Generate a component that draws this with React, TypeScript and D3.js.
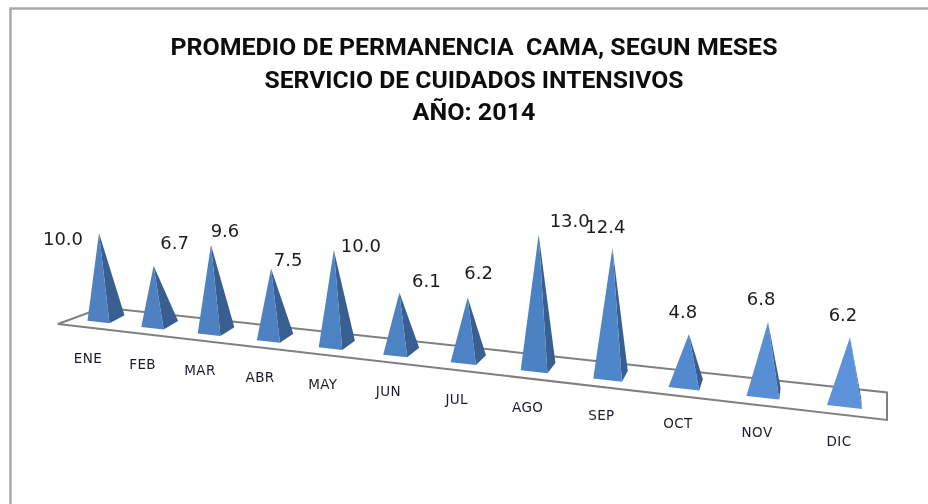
import React from "react";
import * as d3 from "d3";

const months = ["ENE","FEB","MAR","ABR","MAY","JUN","JUL","AGO","SEP","OCT","NOV","DIC"];
const promedio = [10.0,6.7,9.6,7.5,10.0,6.1,6.2,13.0,12.4,4.8,6.8,6.2];
const titleLines = ["PROMEDIO DE PERMANENCIA  CAMA, SEGUN MESES","SERVICIO DE CUIDADOS INTENSIVOS","AÑO: 2014"];
// hand-placed data label offsets from each pyramid apex, as in the source chart
const labelDx = [-36,21,14,17,27,27,11,31,-7,-6,-7,-7];
const labelDy = [6,-23,-14,-8,-4,-11,-24,-14,-21,-22,-23,-22];

const W = 928, H = 504;
const depth = d3.scaleLinear().domain([0, months.length - 1]).range([0, 1]);
// perspective: months spread out toward the viewer
const warp = (i: number) => { const t = depth(i); return 0.78 * t + 0.22 * t * t; };
const xBase = d3.scaleLinear().domain([0, 1]).range([106, 844]);
const yFloor = d3.scaleLinear().domain([106, 844]).range([318, 401]);
const frontW = d3.scaleLinear().domain([0, 0.4, 0.6, 1]).range([22, 24, 27, 35]);
const sideX = d3.scaleLinear().domain([0, 0.4, 1]).range([15, 12, -1]);
const sideY = d3.scaleLinear().domain([0, 1]).range([8, 12]);
const lean = d3.scaleLinear().domain([0, 1]).range([-7, 6]);
const unitH = d3.scaleLinear().domain([0, 0.6, 1]).range([8.5, 10.2, 10.3]);
const faceCol = d3.scaleLinear<string>().domain([0, 0.6, 1]).range(["#4f81c2", "#4c82c4", "#5c92da"]);
const line = d3.line().curve(d3.curveLinearClosed);

const marks = months.map((m, i) => {
  const u = warp(i);
  const cx = xBase(u), cy = yFloor(cx);
  const w = frontW(u), sx = sideX(u), sy = sideY(u), fy = w * 0.11;
  const FL: [number, number] = [cx - w / 2 - sx / 2, cy - fy / 2 + sy / 2];
  const FR: [number, number] = [FL[0] + w, FL[1] + fy];
  const BR: [number, number] = [FR[0] + sx, FR[1] - sy];
  const A: [number, number] = [cx + lean(u), cy - promedio[i] * unitH(u)];
  return { m, i, u, cx, cy, FL, FR, BR, A };
});

const floor: [number, number][] = [[58, 324], [887, 420], [887, 392.5], [102.5, 307.5]];

export default function App() {
  return (
    <svg width={W} height={H} style={{ position: "absolute", left: 0, top: 0, background: "#fff" }}>
      <defs>
        <filter id="soft" x="-5%" y="-5%" width="110%" height="110%">
          <feGaussianBlur stdDeviation="0.55" />
        </filter>
      </defs>
      <g filter="url(#soft)">
        <path d={`M10.5,${H}V8.5H${W}`} fill="none" stroke="#a9a9a9" strokeWidth={2.5} />
        {titleLines.map((t, i) => (
          <text key={i} x={474} y={55 + i * 32.5} textAnchor="middle" xmlSpace="preserve"
            textLength={[607, 419, 123][i]} lengthAdjust="spacingAndGlyphs"
            fontFamily="Roboto, 'Liberation Sans', sans-serif" fontWeight={700} fontSize={24} fill="#111">{t}</text>
        ))}
        <path d={line(floor) ?? ""} fill="#fff" stroke="#808080" strokeWidth={2} />
        {marks.map(d => (
          <g key={d.m}>
            <path d={line([d.FR, d.BR, d.A]) ?? ""} fill="#385f8f" />
            <path d={line([d.FL, d.FR, d.A]) ?? ""} fill={faceCol(d.u)} />
          </g>
        ))}
        {marks.map(d => (
          <text key={d.m} x={d.A[0] + labelDx[d.i]} y={d.A[1] + labelDy[d.i] + 6} textAnchor="middle"
            fontFamily="'DejaVu Sans', sans-serif" fontSize={18} fill="#1c1c1c">{promedio[d.i].toFixed(1)}</text>
        ))}
        {marks.map(d => (
          <text key={d.m} x={d.cx - 18 + 13 * d.u} y={d.cy + 45} textAnchor="middle"
            fontFamily="'DejaVu Sans', sans-serif" fontSize={13.5} letterSpacing={0.4} fill="#1c1c2c">{d.m}</text>
        ))}
      </g>
    </svg>
  );
}
